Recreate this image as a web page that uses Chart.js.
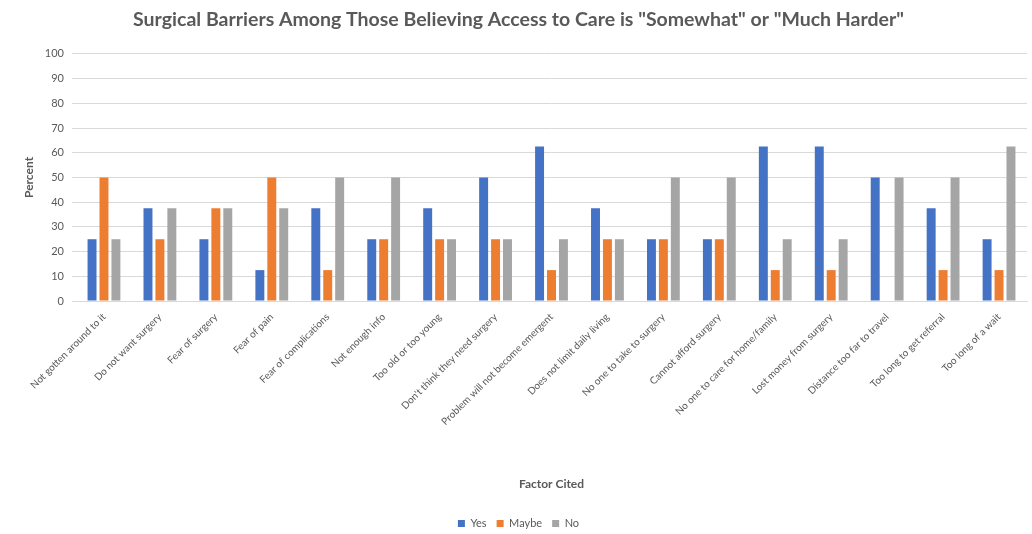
<!DOCTYPE html>
<html>
<head>
<meta charset="utf-8">
<script src="https://cdn.jsdelivr.net/npm/chart.js@4"></script>
<style>
  html, body { margin: 0; padding: 0; background: #ffffff; }
  #wrap { position: relative; width: 1032px; height: 534px; }
</style>
</head>
<body>
<div id="wrap"><canvas id="c" width="1032" height="534"></canvas></div>
<script>
const categories = [
  "Not gotten around to it",
  "Do not want surgery",
  "Fear of surgery",
  "Fear of pain",
  "Fear of complications",
  "Not enough info",
  "Too old or too young",
  "Don't think they need surgery",
  "Problem will not become emergent",
  "Does not limit daily living",
  "No one to take to surgery",
  "Cannot afford surgery",
  "No one to care for home/family",
  "Lost money from surgery",
  "Distance too far to travel",
  "Too long to get referral",
  "Too long of a wait"
];
const yesValues   = [25, 37.5, 25, 12.5, 37.5, 25, 37.5, 50, 62.5, 37.5, 25, 25, 62.5, 62.5, 50, 37.5, 25];
const maybeValues = [50, 25, 37.5, 50, 12.5, 25, 25, 25, 12.5, 25, 25, 25, 12.5, 12.5, 0, 12.5, 12.5];
const noValues    = [25, 37.5, 37.5, 37.5, 50, 50, 25, 25, 25, 25, 50, 50, 25, 25, 50, 50, 62.5];
const yTicks = [0, 10, 20, 30, 40, 50, 60, 70, 80, 90, 100];

const FONT = "Lato, 'Liberation Sans', sans-serif";
const TXT = "#595959";

new Chart(document.getElementById('c'), {
  type: 'bar',
  data: {
    labels: categories,
    datasets: [
      { label: 'Yes',   data: yesValues,   backgroundColor: '#4472C4' },
      { label: 'Maybe', data: maybeValues, backgroundColor: '#ED7D31' },
      { label: 'No',    data: noValues,    backgroundColor: '#A5A5A5' }
    ]
  },
  options: {
    responsive: false,
    animation: false,
    devicePixelRatio: 1,
    categoryPercentage: 0.64,
    barPercentage: 0.75,
    layout: { padding: { left: 10, right: 5, top: 6, bottom: -5 } },
    plugins: {
      title: {
        display: true,
        text: 'Surgical Barriers Among Those Believing Access to Care is "Somewhat" or "Much Harder"',
        color: TXT,
        font: { family: FONT, size: 19.5, weight: 'bold' },
        padding: { top: 2, bottom: 22.5 }
      },
      legend: {
        position: 'bottom',
        labels: {
          color: TXT,
          font: { family: FONT, size: 11 },
          usePointStyle: true,
          pointStyle: 'rect',
          boxWidth: 7,
          boxHeight: 7,
          padding: 10
        }
      },
      tooltip: { enabled: false }
    },
    scales: {
      x: {
        grid: { display: false },
        border: { color: '#d9d9d9' },
        ticks: {
          color: TXT,
          font: { family: FONT, size: 10 },
          minRotation: 45,
          maxRotation: 45,
          autoSkip: false,
          padding: 2
        },
        title: {
          display: true,
          text: 'Factor Cited',
          color: TXT,
          font: { family: FONT, size: 12, weight: 'bold' },
          padding: { top: 4, bottom: 17 }
        },
        afterFit: (s) => { s.height = 207; }
      },
      y: {
        min: 0,
        max: 100,
        afterBuildTicks: (s) => { s.ticks = yTicks.map(v => ({ value: v })); },
        grid: { color: '#d9d9d9', drawTicks: true, tickLength: 4, tickColor: '#d9d9d9' },
        border: { display: false },
        ticks: {
          color: TXT,
          font: { family: FONT, size: 11 },
          padding: 8
        },
        title: {
          display: true,
          text: 'Percent',
          color: TXT,
          font: { family: FONT, size: 12, weight: 'bold' },
          padding: { top: 12, bottom: 0 }
        },
        afterFit: (s) => { s.width = 66; }
      }
    }
  }
});
</script>
</body>
</html>
